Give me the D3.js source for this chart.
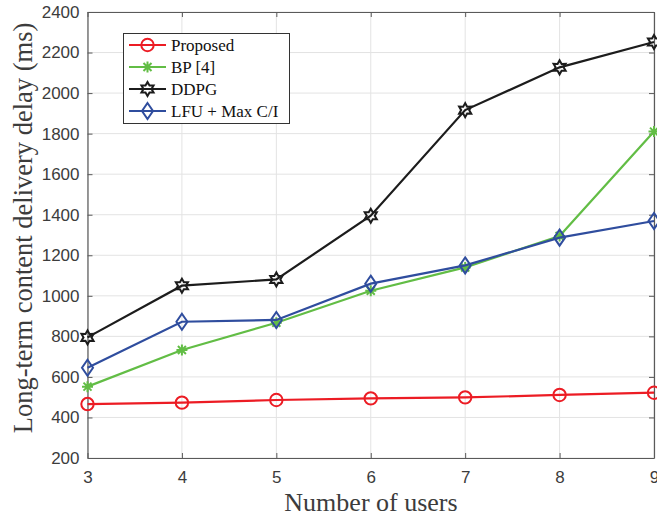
<!DOCTYPE html>
<html>
<head>
<meta charset="utf-8">
<script src="https://cdn.jsdelivr.net/npm/d3@7"></script>
<style>
body { margin: 0; background: #fff; }
</style>
</head>
<body>
<svg width="657" height="519"></svg>
<script>
var users = [3, 4, 5, 6, 7, 8, 9];
var proposed = [466, 473, 486, 494, 499, 511, 522];
var bp = [552, 733, 867, 1025, 1140, 1295, 1810];
var ddpg = [795, 1050, 1081, 1395, 1916, 2127, 2252];
var lfu = [645, 872, 881, 1060, 1150, 1287, 1369];
var yTicks = [200, 400, 600, 800, 1000, 1200, 1400, 1600, 1800, 2000, 2200, 2400];

var series = [
	{ name: "Proposed", values: proposed, color: "#ec1c24", marker: "circle" },
	{ name: "BP [4]", values: bp, color: "#62bd45", marker: "asterisk" },
	{ name: "DDPG", values: ddpg, color: "#1c1c1c", marker: "hexagram" },
	{ name: "LFU + Max C/I", values: lfu, color: "#2f4d9e", marker: "diamond" }
];

var svg = d3.select("svg"),
	pLeft = 87.5, pRight = 654, pTop = 12, pBottom = 458;

var x = d3.scaleLinear().domain([3, 9]).range([pLeft, pRight]);
var y = d3.scaleLinear().domain([200, 2400]).range([pBottom, pTop]);

// grid
var grid = svg.append("g");
grid.selectAll(".gx").data(users).enter().append("line")
	.attr("x1", function(d) { return x(d); }).attr("x2", function(d) { return x(d); })
	.attr("y1", pTop).attr("y2", pBottom)
	.attr("stroke", "#e3e3e3").attr("stroke-width", 1);
grid.selectAll(".gy").data(yTicks).enter().append("line")
	.attr("y1", function(d) { return y(d); }).attr("y2", function(d) { return y(d); })
	.attr("x1", pLeft).attr("x2", pRight)
	.attr("stroke", "#e3e3e3").attr("stroke-width", 1);

// axes, matlab style box with inward ticks
var axisColor = "#5a5a5a";
function styleAxis(g) {
	g.select(".domain").attr("stroke", axisColor).attr("stroke-width", 1.2);
	g.selectAll(".tick line").attr("stroke", axisColor);
	g.selectAll(".tick text").attr("fill", "#3c3c3c").style("font-family", "Liberation Sans, Arial, sans-serif").style("font-size", "17px");
}
svg.append("g").attr("transform", "translate(0," + pBottom + ")")
	.call(d3.axisBottom(x).tickValues(users).tickSizeInner(-5).tickSizeOuter(0).tickPadding(13).tickFormat(d3.format("d")))
	.call(styleAxis);
svg.append("g").attr("transform", "translate(" + pLeft + ",0)")
	.call(d3.axisLeft(y).tickValues(yTicks).tickSizeInner(-5).tickSizeOuter(0).tickPadding(8).tickFormat(d3.format("d")))
	.call(styleAxis);
svg.append("g").attr("transform", "translate(0," + pTop + ")")
	.call(d3.axisTop(x).tickValues(users).tickSizeInner(-5).tickSizeOuter(0).tickFormat(""))
	.call(styleAxis);
svg.append("g").attr("transform", "translate(" + pRight + ",0)")
	.call(d3.axisRight(y).tickValues(yTicks).tickSizeInner(-5).tickSizeOuter(0).tickFormat(""))
	.call(styleAxis);

// markers
var hexagram = (function() {
	var pts = [];
	for (var i = 0; i < 12; i++) {
		var a = Math.PI / 2 + i * Math.PI / 6;
		var r = i % 2 === 0 ? 7 : 4;
		pts.push([r * Math.cos(a), -r * Math.sin(a)]);
	}
	return "M" + pts.map(function(p) { return p[0].toFixed(2) + "," + p[1].toFixed(2); }).join("L") + "Z";
})();

function drawMarker(g, type, color) {
	if (type === "circle") {
		g.append("circle").attr("r", 6.2).attr("fill", "none").attr("stroke", color).attr("stroke-width", 2);
	} else if (type === "diamond") {
		g.append("path").attr("d", "M0,-8L5.5,0L0,8L-5.5,0Z").attr("fill", "none").attr("stroke", color).attr("stroke-width", 2);
	} else if (type === "hexagram") {
		g.append("path").attr("d", hexagram).attr("fill", "none").attr("stroke", color).attr("stroke-width", 2);
	} else if (type === "asterisk") {
		g.append("path").attr("d", "M-5.5,0L5.5,0M0,-5.5L0,5.5M-4,-4L4,4M-4,4L4,-4").attr("stroke", color).attr("stroke-width", 2);
	}
}

var line = d3.line()
	.x(function(d, i) { return x(users[i]); })
	.y(function(d) { return y(d); });

series.forEach(function(s) {
	svg.append("path").datum(s.values)
		.attr("d", line)
		.attr("fill", "none")
		.attr("stroke", s.color)
		.attr("stroke-width", 2.2);
	s.values.forEach(function(v, i) {
		var m = svg.append("g").attr("transform", "translate(" + x(users[i]) + "," + y(v) + ")");
		drawMarker(m, s.marker, s.color);
	});
});

// legend
var legend = svg.append("g");
legend.append("rect").attr("x", 123.5).attr("y", 33.5).attr("width", 166).attr("height", 90)
	.attr("fill", "#fff").attr("stroke", "#333").attr("stroke-width", 1);
series.forEach(function(s, i) {
	var ly = 45 + i * 22;
	legend.append("line").attr("x1", 129).attr("x2", 166).attr("y1", ly).attr("y2", ly)
		.attr("stroke", s.color).attr("stroke-width", 2.2);
	var m = legend.append("g").attr("transform", "translate(147.5," + ly + ")");
	drawMarker(m, s.marker, s.color);
	legend.append("text").attr("x", 171).attr("y", ly + 6)
		.style("font-family", "Liberation Serif, Times New Roman, serif").style("font-size", "17px")
		.attr("fill", "#111").text(s.name);
});

// axis titles
svg.append("text").attr("x", 371).attr("y", 511)
	.attr("text-anchor", "middle")
	.style("font-family", "Liberation Serif, Times New Roman, serif").style("font-size", "26px")
	.attr("fill", "#3c3c3c").text("Number of users");
svg.append("text").attr("transform", "translate(32," + 228 + ") rotate(-90)")
	.attr("text-anchor", "middle")
	.style("font-family", "Liberation Serif, Times New Roman, serif").style("font-size", "26.5px")
	.attr("fill", "#3c3c3c").text("Long-term content delivery delay (ms)");
</script>
</body>
</html>
